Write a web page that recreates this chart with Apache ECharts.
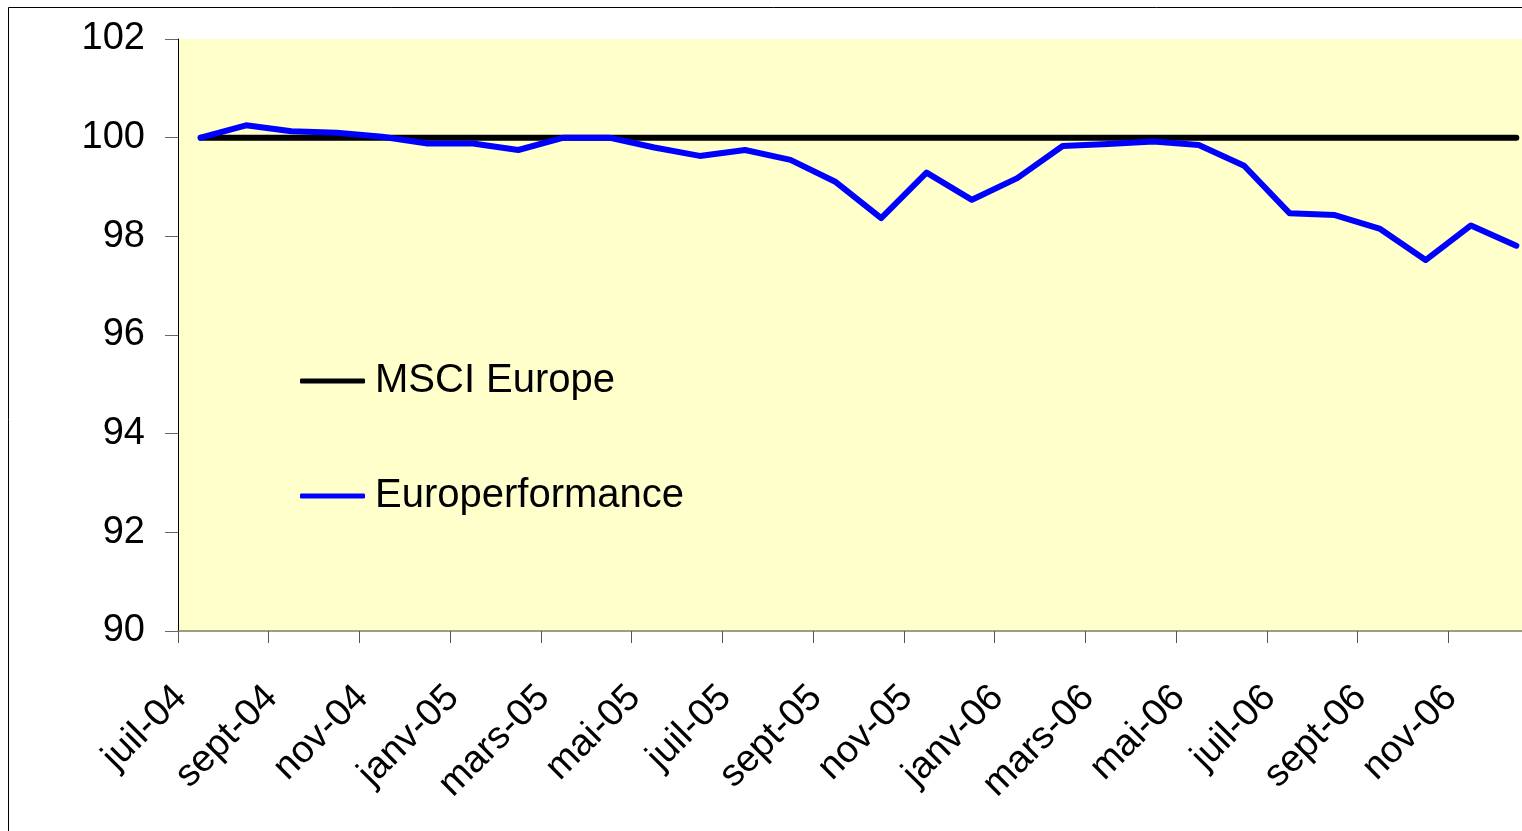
<!DOCTYPE html>
<html>
<head>
<meta charset="utf-8">
<title>MSCI Europe / Europerformance</title>
<script src="https://cdn.jsdelivr.net/npm/echarts@6/dist/echarts.min.js"></script>
<style>
    html, body { margin: 0; padding: 0; background: #fff; overflow: hidden; }
    /* le graphique d'origine est coupé à droite : zone de tracé plus large que la fenêtre */
    #chart { width: 1539px; height: 831px; }
</style>
</head>
<body>
<div id="chart"></div>
<script>
// mois, juil-04 -> déc-06
var months = ['juil-04', 'août-04', 'sept-04', 'oct-04', 'nov-04', 'déc-04',
    'janv-05', 'févr-05', 'mars-05', 'avr-05', 'mai-05', 'juin-05',
    'juil-05', 'août-05', 'sept-05', 'oct-05', 'nov-05', 'déc-05',
    'janv-06', 'févr-06', 'mars-06', 'avr-06', 'mai-06', 'juin-06',
    'juil-06', 'août-06', 'sept-06', 'oct-06', 'nov-06', 'déc-06'];

var msciEurope = [100, 100, 100, 100, 100, 100, 100, 100, 100, 100,
    100, 100, 100, 100, 100, 100, 100, 100, 100, 100,
    100, 100, 100, 100, 100, 100, 100, 100, 100, 100];

var europerformance = [100.0, 100.25, 100.13, 100.1, 100.02, 99.88, 99.88, 99.75, 100.0, 100.0,
    99.8, 99.63, 99.75, 99.55, 99.1, 98.37, 99.29, 98.74, 99.18, 99.83,
    99.87, 99.92, 99.85, 99.43, 98.47, 98.43, 98.15, 97.52, 98.22, 97.81];

var yTicks = { min: 90, max: 102, step: 2 };

var font = "'Liberation Sans', Arial, sans-serif";

var myChart = echarts.init(document.getElementById('chart'));

var option = {
    backgroundColor: '#fff',
    animation: false,
    graphic: [{
        type: 'polyline',
        shape: { points: [[8.5, 831], [8.5, 7.5], [1539, 7.5]] },
        style: { stroke: '#000', lineWidth: 1, fill: null },
        silent: true
    }],
    grid: {
        left: 178,
        top: 39,
        bottom: 200,
        right: 0,
        show: true,
        backgroundColor: '#FFFFCC',
        borderWidth: 0
    },
    legend: {
        orient: 'vertical',
        left: 300,
        top: 361,
        padding: 0,
        icon: 'roundRect',
        itemWidth: 65,
        itemHeight: 5,
        itemGap: 75,
        textStyle: { fontFamily: font, fontSize: 40, color: '#000', padding: [0, 0, 0, 5] },
        data: ['MSCI Europe', 'Europerformance']
    },
    xAxis: {
        type: 'category',
        data: months,
        boundaryGap: true,
        axisLine: { show: true, lineStyle: { color: '#7f7f60', width: 1.5 } },
        axisTick: { show: true, interval: 1, length: 12, lineStyle: { color: '#555' } },
        axisLabel: {
            interval: 1,
            rotate: 45,
            margin: 41,
            fontFamily: font,
            fontSize: 38,
            color: '#000',
            formatter: function (v) { return '{a|' + v + '}'; },
            rich: { a: { fontFamily: font, fontSize: 38, color: '#000', padding: [0, 28, 0, 0] } }
        },
        splitLine: { show: false }
    },
    yAxis: {
        type: 'value',
        min: yTicks.min,
        max: yTicks.max,
        interval: yTicks.step,
        axisLine: { show: true, lineStyle: { color: '#000', width: 1 } },
        axisTick: { show: true, length: 13, lineStyle: { color: '#666' } },
        axisLabel: { margin: 33, fontFamily: font, fontSize: 38, color: '#000' },
        splitLine: { show: false }
    },
    series: [{
        name: 'MSCI Europe',
        type: 'line',
        data: msciEurope,
        symbol: 'none',
        color: '#000',
        lineStyle: { color: '#000', width: 6, cap: 'round' }
    }, {
        name: 'Europerformance',
        type: 'line',
        data: europerformance,
        symbol: 'none',
        color: '#0000FF',
        lineStyle: { color: '#0000FF', width: 6, cap: 'round', join: 'round' }
    }]
};

myChart.setOption(option);
</script>
</body>
</html>
